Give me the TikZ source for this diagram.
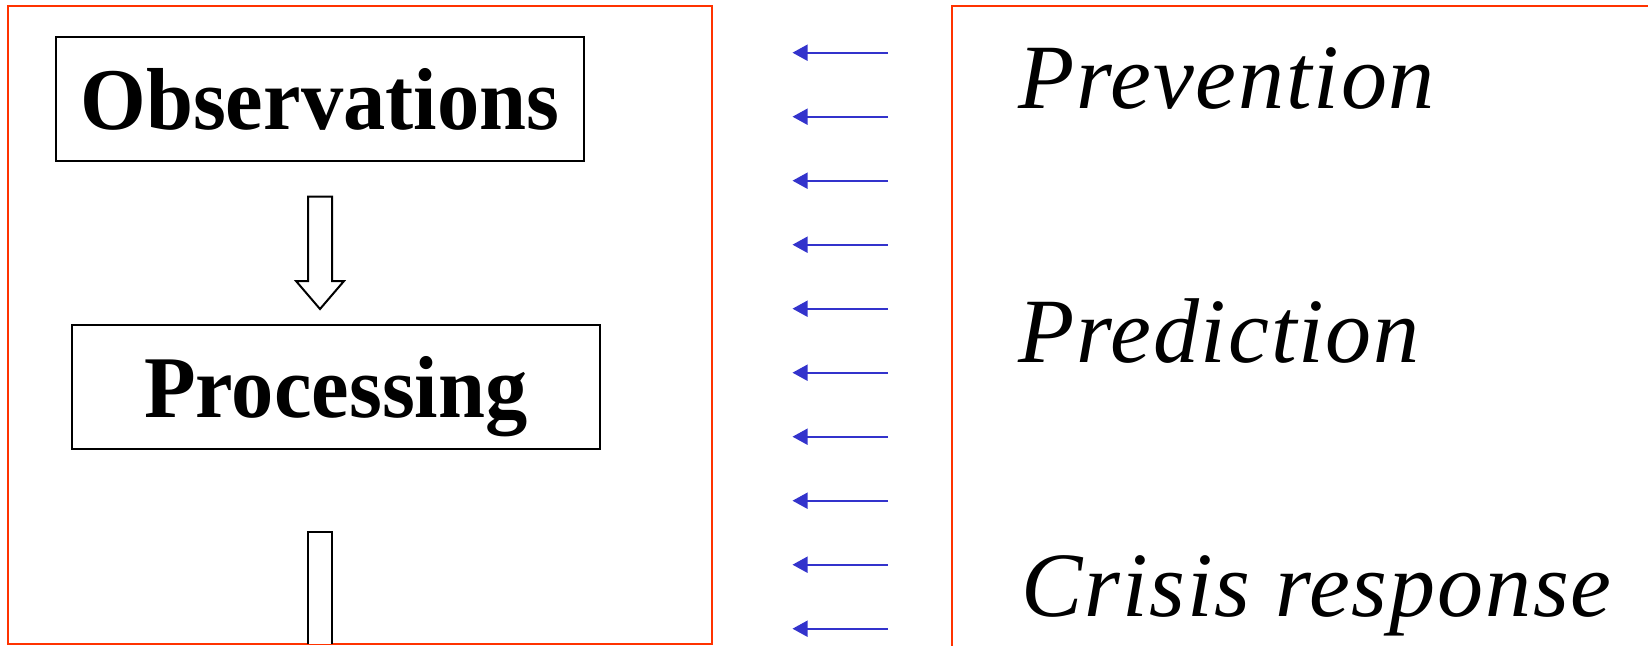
\documentclass[tikz,border=0pt]{standalone}
\usepackage{fontspec}
\setmainfont{Liberation Serif}
\newfontfamily\boxfont[FakeStretch=0.96]{Liberation Serif}
\newfontfamily\goalfont[LetterSpace=2.0]{Liberation Serif}
\usetikzlibrary{arrows.meta}
\definecolor{frameRed}{RGB}{255,51,0}
\definecolor{arrBlue}{RGB}{51,51,204}
\tikzset{
  frame/.style={draw=frameRed, line width=2pt},
  stagebox/.style={draw=black, line width=2pt, minimum width=528pt, minimum height=124pt,
    inner sep=0pt, text height=62pt, text depth=0pt,
    font=\fontsize{88}{90}\boxfont\bfseries},
  hollow/.style={draw=black, line width=2pt, fill=white},
  feedback/.style={draw=arrBlue, line width=1.7pt, -{Triangle[length=15pt,width=16pt]}},
  goal/.style={anchor=base west, inner sep=0pt, font=\fontsize{92}{94}\goalfont\itshape}
}
\begin{document}
\begin{tikzpicture}[x=1pt,y=-1pt]
\useasboundingbox (0,0) rectangle (1648,645);
% frames
\draw[frame] (7.5,644) rectangle (712,5.5);
\draw[frame] (1660,5.5) -- (951.5,5.5) -- (951.5,660);
% boxes
\node[stagebox] (obs) at (319.8,98.8) {Observations};
\node[stagebox] (proc) at (336,386.5) {Processing};
% hollow arrows
\draw[hollow] (308,196.7) -- (332,196.7) -- (332,281) -- (344,281) -- (320,309)
  -- (296,281) -- (308,281) -- cycle;
\draw[hollow] (308,644) -- (308,532.3) -- (332,532.3) -- (332,644);
% blue arrows
\foreach \k in {0,...,9}{
  \coordinate (bs\k) at (888,52.7+64*\k);
  \coordinate (be\k) at (792.5,52.7+64*\k);
  \draw[feedback] (bs\k) -- (be\k);
}
% goals
\node[goal] (prev) at (1018,108.3) {Prevention};
\node[goal] (pred) at (1018,362.7) {Prediction};
\node[goal] (cris) at (1021,616.7) {Crisis response};
\end{tikzpicture}
\end{document}
